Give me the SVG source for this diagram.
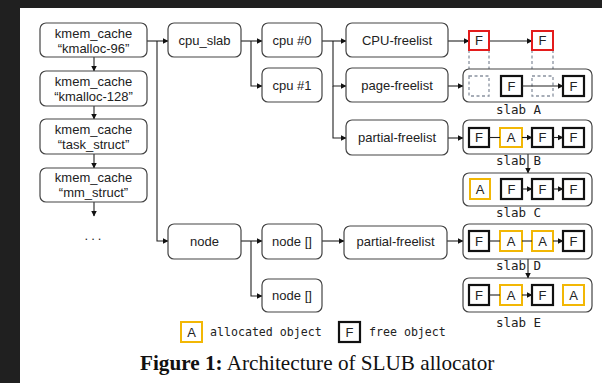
<svg xmlns="http://www.w3.org/2000/svg" width="602" height="383" viewBox="0 0 602 383">
<defs>
<marker id="ah" markerWidth="6" markerHeight="6" refX="5.5" refY="3" orient="auto" markerUnits="userSpaceOnUse">
<path d="M0,0 L6,3 L0,6 z" fill="#111"/>
</marker>
<style>
.nd{fill:#fff;stroke:#444;stroke-width:1.2}
.t{font-family:"Liberation Sans",Arial,sans-serif;font-size:13px;fill:#222;text-anchor:middle}
.c{fill:none;stroke:#222;stroke-width:1.1}
.ca{fill:none;stroke:#222;stroke-width:1.1;marker-end:url(#ah)}
.slab{fill:#fff;stroke:#444;stroke-width:1.2}
.f{fill:#fff;stroke:#111;stroke-width:2.2}
.a{fill:#fff;stroke:#f2b705;stroke-width:2}
.r{fill:#fff;stroke:#e31c1c;stroke-width:2}
.d{fill:none;stroke:#8a93a0;stroke-width:1.3;stroke-dasharray:3,2.5}
.m{font-family:"DejaVu Sans Mono","Liberation Mono",monospace;font-size:12.5px;fill:#222}
.lg{font-family:"DejaVu Sans Mono","Liberation Mono",monospace;font-size:11.6px;fill:#222}
</style>
</defs>
<rect x="0" y="0" width="602" height="383" fill="#202020"/>
<rect x="20" y="8" width="582" height="375" fill="#fff"/>

<g id="connectors">
<line class="ca" x1="94" y1="57" x2="94" y2="71"/>
<line class="ca" x1="94" y1="106" x2="94" y2="119"/>
<line class="ca" x1="94" y1="154" x2="94" y2="168"/>
<line class="ca" x1="94" y1="202" x2="94" y2="216"/>
<line class="ca" x1="147" y1="41" x2="168" y2="41"/>
<polyline class="ca" points="157,41 157,241 168,241"/>
<line class="ca" x1="241" y1="41" x2="262" y2="41"/>
<polyline class="ca" points="251,41 251,86 262,86"/>
<line class="ca" x1="322" y1="41" x2="346" y2="41"/>
<polyline class="ca" points="333,41 333,86 346,86"/>
<polyline class="ca" points="333,86 333,138 346,138"/>
<line class="ca" x1="448" y1="41" x2="469" y2="41"/>
<line class="ca" x1="489" y1="41" x2="532" y2="41"/>
<line class="ca" x1="448" y1="86" x2="463" y2="86"/>
<line class="ca" x1="448" y1="138" x2="463" y2="138"/>
<line class="ca" x1="241" y1="241" x2="262" y2="241"/>
<polyline class="ca" points="251,241 251,296 262,296"/>
<line class="ca" x1="322" y1="241" x2="344" y2="241"/>
<line class="ca" x1="447" y1="241" x2="463" y2="241"/>
<line class="ca" x1="528" y1="154" x2="528" y2="173"/>
<line class="ca" x1="528" y1="259" x2="528" y2="278"/>
<line class="d" x1="469" y1="50" x2="469" y2="75"/>
<line class="d" x1="489" y1="50" x2="489" y2="75"/>
<line class="d" x1="532" y1="50" x2="532" y2="75"/>
<line class="d" x1="553" y1="50" x2="553" y2="75"/>
</g>

<g id="kmalloc-96"><rect class="nd" x="40" y="23" width="107" height="34" rx="6"/><text class="t" x="93.5" y="38">kmem_cache</text><text class="t" x="93.5" y="53">“kmalloc-96”</text></g>
<g id="kmalloc-128"><rect class="nd" x="40" y="71" width="107" height="35" rx="6"/><text class="t" x="93.5" y="86">kmem_cache</text><text class="t" x="93.5" y="101">“kmalloc-128”</text></g>
<g id="task_struct"><rect class="nd" x="40" y="119" width="107" height="35" rx="6"/><text class="t" x="93.5" y="134">kmem_cache</text><text class="t" x="93.5" y="149">“task_struct”</text></g>
<g id="mm_struct"><rect class="nd" x="40" y="168" width="107" height="34" rx="6"/><text class="t" x="93.5" y="182">kmem_cache</text><text class="t" x="93.5" y="197">“mm_struct”</text></g>
<g id="more"><text class="t" x="94.5" y="240" letter-spacing="3">...</text></g>

<g id="cpu_slab"><rect class="nd" x="168" y="23" width="73" height="34" rx="6"/><text class="t" x="204.5" y="45">cpu_slab</text></g>
<g id="cpu0"><rect class="nd" x="262" y="23" width="60" height="34" rx="6"/><text class="t" x="292" y="45">cpu #0</text></g>
<g id="cpu1"><rect class="nd" x="262" y="68" width="60" height="34" rx="6"/><text class="t" x="292" y="90">cpu #1</text></g>
<g id="cpu-freelist"><rect class="nd" x="346" y="23" width="102" height="34" rx="6"/><text class="t" x="397" y="45">CPU-freelist</text></g>
<g id="page-freelist"><rect class="nd" x="346" y="68" width="102" height="34" rx="6"/><text class="t" x="397" y="90">page-freelist</text></g>
<g id="partial-freelist-cpu"><rect class="nd" x="346" y="120" width="102" height="35" rx="6"/><text class="t" x="397" y="142">partial-freelist</text></g>

<g id="node"><rect class="nd" x="168" y="224" width="73" height="35" rx="6"/><text class="t" x="204.5" y="246">node</text></g>
<g id="node-arr0"><rect class="nd" x="262" y="224" width="60" height="35" rx="6"/><text class="t" x="292" y="246">node []</text></g>
<g id="node-arr1"><rect class="nd" x="262" y="279" width="60" height="33" rx="6"/><text class="t" x="292" y="300">node []</text></g>
<g id="partial-freelist-node"><rect class="nd" x="344" y="226" width="103" height="33" rx="6"/><text class="t" x="395.5" y="246">partial-freelist</text></g>

<g id="cpu-objects">
<rect class="r" x="469" y="31" width="20" height="19"/><text class="t" x="479" y="45">F</text>
<rect class="r" x="532" y="31" width="21" height="19"/><text class="t" x="542.5" y="45">F</text>
</g>

<g id="slabA">
<rect class="slab" x="463" y="69" width="129" height="33" rx="6"/>
<rect class="d" x="469" y="76" width="20" height="20"/>
<rect class="d" x="532" y="76" width="21" height="20"/>
<rect class="f" x="501" y="76" width="21" height="20"/><text class="t" x="511.5" y="91">F</text>
<rect class="f" x="563" y="76" width="21" height="20"/><text class="t" x="573.5" y="91">F</text>
<line class="ca" x1="522" y1="86" x2="563" y2="86"/>
<text class="m" x="518.5" y="114" text-anchor="middle">slab A</text>
</g>

<g id="slabB">
<rect class="slab" x="463" y="120" width="129" height="34" rx="6"/>
<rect class="f" x="469" y="128" width="20" height="19"/><text class="t" x="479" y="142">F</text>
<rect class="a" x="500" y="128" width="22" height="19"/><text class="t" x="511" y="142">A</text>
<rect class="f" x="532" y="128" width="21" height="19"/><text class="t" x="542.5" y="142">F</text>
<rect class="f" x="563" y="128" width="21" height="19"/><text class="t" x="573.5" y="142">F</text>
<line class="c" x1="489" y1="137.5" x2="500" y2="137.5"/>
<line class="ca" x1="522" y1="137.5" x2="532" y2="137.5"/>
<line class="ca" x1="553" y1="137.5" x2="563" y2="137.5"/>
<text class="m" x="518.5" y="165" text-anchor="middle">slab B</text>
</g>

<g id="slabC">
<rect class="slab" x="463" y="173" width="129" height="33" rx="6"/>
<rect class="a" x="470" y="179" width="20" height="20"/><text class="t" x="480" y="194">A</text>
<rect class="f" x="501" y="179" width="21" height="20"/><text class="t" x="511.5" y="194">F</text>
<rect class="f" x="532" y="179" width="21" height="20"/><text class="t" x="542.5" y="194">F</text>
<rect class="f" x="563" y="179" width="21" height="20"/><text class="t" x="573.5" y="194">F</text>
<line class="ca" x1="522" y1="189" x2="532" y2="189"/>
<line class="ca" x1="553" y1="189" x2="563" y2="189"/>
<text class="m" x="518.5" y="217" text-anchor="middle">slab C</text>
</g>

<g id="slabD">
<rect class="slab" x="463" y="224" width="129" height="35" rx="6"/>
<rect class="f" x="469" y="231" width="20" height="20"/><text class="t" x="479" y="246">F</text>
<rect class="a" x="500" y="231" width="22" height="20"/><text class="t" x="511" y="246">A</text>
<rect class="a" x="532" y="231" width="21" height="20"/><text class="t" x="542.5" y="246">A</text>
<rect class="f" x="563" y="231" width="21" height="20"/><text class="t" x="573.5" y="246">F</text>
<line class="c" x1="489" y1="241" x2="500" y2="241"/>
<line class="c" x1="522" y1="241" x2="532" y2="241"/>
<line class="ca" x1="553" y1="241" x2="563" y2="241"/>
<text class="m" x="518.5" y="270" text-anchor="middle">slab D</text>
</g>

<g id="slabE">
<rect class="slab" x="463" y="278" width="129" height="34" rx="6"/>
<rect class="f" x="469" y="285" width="20" height="20"/><text class="t" x="479" y="300">F</text>
<rect class="a" x="500" y="285" width="22" height="20"/><text class="t" x="511" y="300">A</text>
<rect class="f" x="532" y="285" width="21" height="20"/><text class="t" x="542.5" y="300">F</text>
<rect class="a" x="563" y="285" width="21" height="20"/><text class="t" x="573.5" y="300">A</text>
<line class="c" x1="489" y1="295" x2="500" y2="295"/>
<line class="ca" x1="522" y1="295" x2="532" y2="295"/>
<text class="m" x="518.5" y="327" text-anchor="middle">slab E</text>
</g>

<g id="legend">
<rect class="a" x="181" y="322" width="21" height="20"/><text class="t" x="191.5" y="337">A</text>
<text class="lg" x="210" y="336">allocated object</text>
<rect class="f" x="339" y="322" width="21" height="20"/><text class="t" x="349.5" y="337">F</text>
<text class="lg" x="369" y="336">free object</text>
</g>

<g id="caption">
<text x="140" y="370" font-family="'Liberation Serif','Times New Roman',serif" font-size="21.2" fill="#111"><tspan font-weight="bold">Figure 1:</tspan> Architecture of SLUB allocator</text>
</g>
</svg>
